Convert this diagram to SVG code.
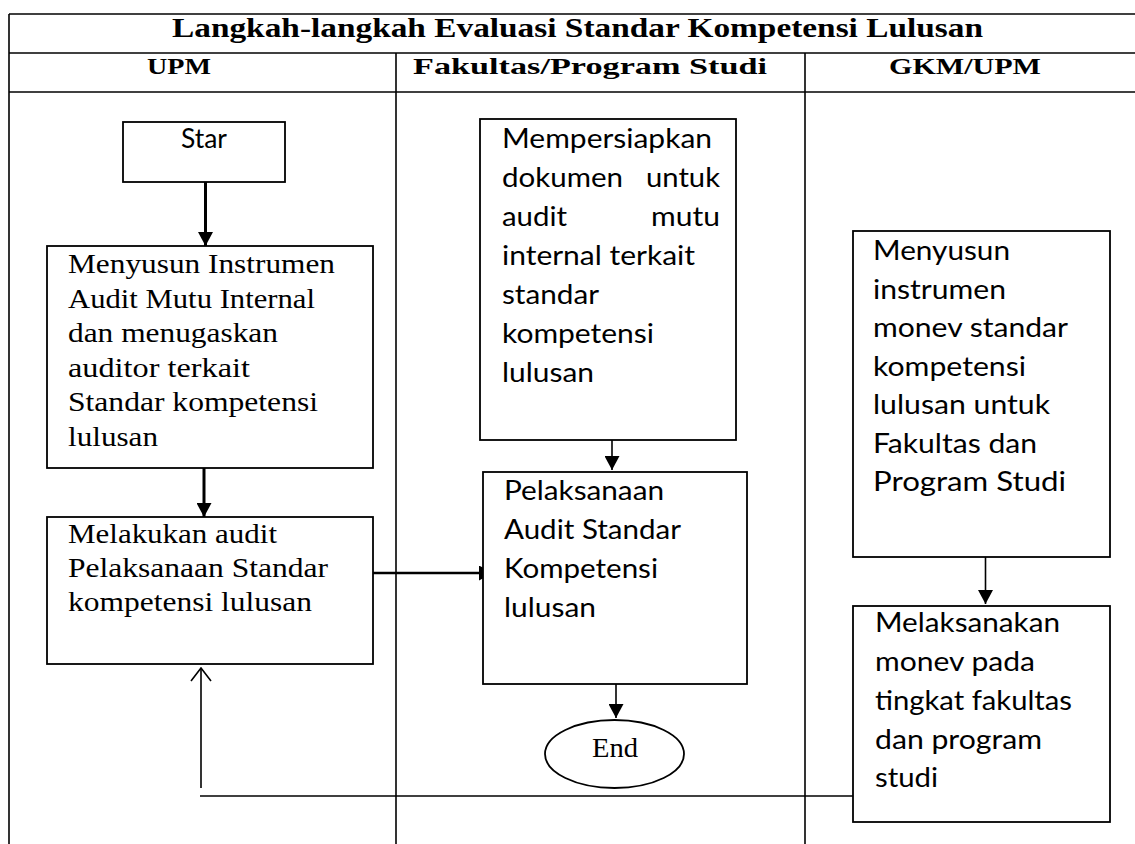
<svg xmlns="http://www.w3.org/2000/svg" width="1135" height="844" viewBox="0 0 1135 844">
<style>
.grid{stroke:#000;stroke-width:1.6;fill:none}
.box{fill:#fff;stroke:#000;stroke-width:1.8}
.con{stroke:#000;fill:none}
.hdr{font-family:"Liberation Serif",serif;font-weight:bold;fill:#000}
.serif{font-family:"Liberation Serif",serif;font-size:27px;fill:#000}
.sans{font-family:Lato,"Liberation Sans",sans-serif;font-size:26px;fill:#000}
</style>
<defs>
<marker id="arr" markerUnits="userSpaceOnUse" viewBox="0 0 14 15" refX="14" refY="7.5" markerWidth="14" markerHeight="15" orient="auto">
<path d="M0,0 L14,7.5 L0,15 z" fill="#000"/>
</marker>
<marker id="open" markerUnits="userSpaceOnUse" viewBox="0 0 15 22" refX="14" refY="11" markerWidth="15" markerHeight="22" orient="auto">
<path d="M1,1 L14,11 L1,21" fill="none" stroke="#000" stroke-width="1.6"/>
</marker>
</defs>
<rect width="1135" height="844" fill="#fff"/>
<g id="table">
<line class="grid" x1="9" y1="14" x2="1135" y2="14"/>
<line class="grid" x1="9" y1="53" x2="1135" y2="53"/>
<line class="grid" x1="9" y1="92" x2="1135" y2="92"/>
<line class="grid" x1="9" y1="14" x2="9" y2="844"/>
<line class="grid" x1="396" y1="53" x2="396" y2="844"/>
<line class="grid" x1="805" y1="53" x2="805" y2="844"/>
<text class="hdr" x="172" y="37" font-size="28" textLength="811" lengthAdjust="spacingAndGlyphs">Langkah-langkah Evaluasi Standar Kompetensi Lulusan</text>
<text class="hdr" x="147" y="74" font-size="24" textLength="64" lengthAdjust="spacingAndGlyphs">UPM</text>
<text class="hdr" x="413" y="74" font-size="24" textLength="354" lengthAdjust="spacingAndGlyphs">Fakultas/Program Studi</text>
<text class="hdr" x="889" y="74" font-size="24" textLength="152" lengthAdjust="spacingAndGlyphs">GKM/UPM</text>
</g>
<g id="connectors">
<line class="con" x1="205.5" y1="182" x2="205.5" y2="246" stroke-width="3" marker-end="url(#arr)"/>
<line class="con" x1="204" y1="459" x2="204" y2="517" stroke-width="3" marker-end="url(#arr)"/>
<line class="con" x1="373" y1="573" x2="493" y2="573" stroke-width="2.4" marker-end="url(#arr)"/>
<line class="con" x1="612" y1="440" x2="612" y2="470" stroke-width="1.6" marker-end="url(#arr)"/>
<line class="con" x1="616" y1="681" x2="616" y2="718" stroke-width="1.6" marker-end="url(#arr)"/>
<line class="con" x1="985.5" y1="557" x2="985.5" y2="604" stroke-width="1.6" marker-end="url(#arr)"/>
<line class="con" x1="853" y1="796" x2="200" y2="796" stroke-width="1.6"/>
<line class="con" x1="201" y1="788" x2="201" y2="668" stroke-width="1.6" marker-end="url(#open)"/>
</g>
<g id="start">
<rect class="box" x="123" y="122" width="162" height="60"/>
<text class="sans" x="181" y="148" font-size="23" textLength="46" lengthAdjust="spacingAndGlyphs">Star</text>
</g>
<g id="menyusun-instrumen">
<rect class="box" x="47" y="246" width="326" height="222"/>
<text class="serif" x="68" y="273" textLength="267" lengthAdjust="spacingAndGlyphs">Menyusun Instrumen</text>
<text class="serif" x="68" y="307.5" textLength="247" lengthAdjust="spacingAndGlyphs">Audit Mutu Internal</text>
<text class="serif" x="68" y="342" textLength="210" lengthAdjust="spacingAndGlyphs">dan menugaskan</text>
<text class="serif" x="68" y="376.5" textLength="182" lengthAdjust="spacingAndGlyphs">auditor terkait</text>
<text class="serif" x="68" y="411" textLength="250" lengthAdjust="spacingAndGlyphs">Standar kompetensi</text>
<text class="serif" x="68" y="445.5" textLength="90" lengthAdjust="spacingAndGlyphs">lulusan</text>
</g>
<g id="melakukan-audit">
<rect class="box" x="47" y="517" width="326" height="147"/>
<text class="serif" x="68" y="543" textLength="209" lengthAdjust="spacingAndGlyphs">Melakukan audit</text>
<text class="serif" x="68" y="577" textLength="260" lengthAdjust="spacingAndGlyphs">Pelaksanaan Standar</text>
<text class="serif" x="68" y="611" textLength="244" lengthAdjust="spacingAndGlyphs">kompetensi lulusan</text>
</g>
<g id="mempersiapkan">
<rect class="box" x="480" y="119" width="256" height="321"/>
<text class="sans" x="502" y="148" textLength="210" lengthAdjust="spacingAndGlyphs">Mempersiapkan</text>
<text class="sans" x="502" y="187" textLength="121" lengthAdjust="spacingAndGlyphs">dokumen</text>
<text class="sans" x="646" y="187" textLength="74" lengthAdjust="spacingAndGlyphs">untuk</text>
<text class="sans" x="502" y="226" textLength="65" lengthAdjust="spacingAndGlyphs">audit</text>
<text class="sans" x="651" y="226" textLength="69" lengthAdjust="spacingAndGlyphs">mutu</text>
<text class="sans" x="502" y="265" textLength="193" lengthAdjust="spacingAndGlyphs">internal terkait</text>
<text class="sans" x="502" y="304" textLength="97" lengthAdjust="spacingAndGlyphs">standar</text>
<text class="sans" x="502" y="343" textLength="152" lengthAdjust="spacingAndGlyphs">kompetensi</text>
<text class="sans" x="502" y="382" textLength="92" lengthAdjust="spacingAndGlyphs">lulusan</text>
</g>
<g id="pelaksanaan-audit">
<rect class="box" x="483" y="472" width="264" height="212"/>
<text class="sans" x="504" y="500" textLength="160" lengthAdjust="spacingAndGlyphs">Pelaksanaan</text>
<text class="sans" x="504" y="539" textLength="177" lengthAdjust="spacingAndGlyphs">Audit Standar</text>
<text class="sans" x="504" y="578" textLength="154" lengthAdjust="spacingAndGlyphs">Kompetensi</text>
<text class="sans" x="504" y="617" textLength="92" lengthAdjust="spacingAndGlyphs">lulusan</text>
</g>
<g id="end">
<ellipse class="box" cx="614.5" cy="754" rx="69.5" ry="34"/>
<text class="serif" x="592" y="757" font-size="28" textLength="46" lengthAdjust="spacingAndGlyphs">End</text>
</g>
<g id="menyusun-monev">
<rect class="box" x="853" y="231" width="257" height="326"/>
<text class="sans" x="873" y="260" textLength="137" lengthAdjust="spacingAndGlyphs">Menyusun</text>
<text class="sans" x="873" y="298.5" textLength="133" lengthAdjust="spacingAndGlyphs">instrumen</text>
<text class="sans" x="873" y="337" textLength="195" lengthAdjust="spacingAndGlyphs">monev standar</text>
<text class="sans" x="873" y="375.5" textLength="153" lengthAdjust="spacingAndGlyphs">kompetensi</text>
<text class="sans" x="873" y="414" textLength="177" lengthAdjust="spacingAndGlyphs">lulusan untuk</text>
<text class="sans" x="873" y="452.5" textLength="164" lengthAdjust="spacingAndGlyphs">Fakultas dan</text>
<text class="sans" x="873" y="491" textLength="193" lengthAdjust="spacingAndGlyphs">Program Studi</text>
</g>
<g id="melaksanakan-monev">
<rect class="box" x="853" y="606" width="257" height="216"/>
<text class="sans" x="875" y="632" textLength="185" lengthAdjust="spacingAndGlyphs">Melaksanakan</text>
<text class="sans" x="875" y="671" textLength="160" lengthAdjust="spacingAndGlyphs">monev pada</text>
<text class="sans" x="875" y="710" textLength="197" lengthAdjust="spacingAndGlyphs">tingkat fakultas</text>
<text class="sans" x="875" y="748.5" textLength="167" lengthAdjust="spacingAndGlyphs">dan program</text>
<text class="sans" x="875" y="787" textLength="63" lengthAdjust="spacingAndGlyphs">studi</text>
</g>
</svg>
